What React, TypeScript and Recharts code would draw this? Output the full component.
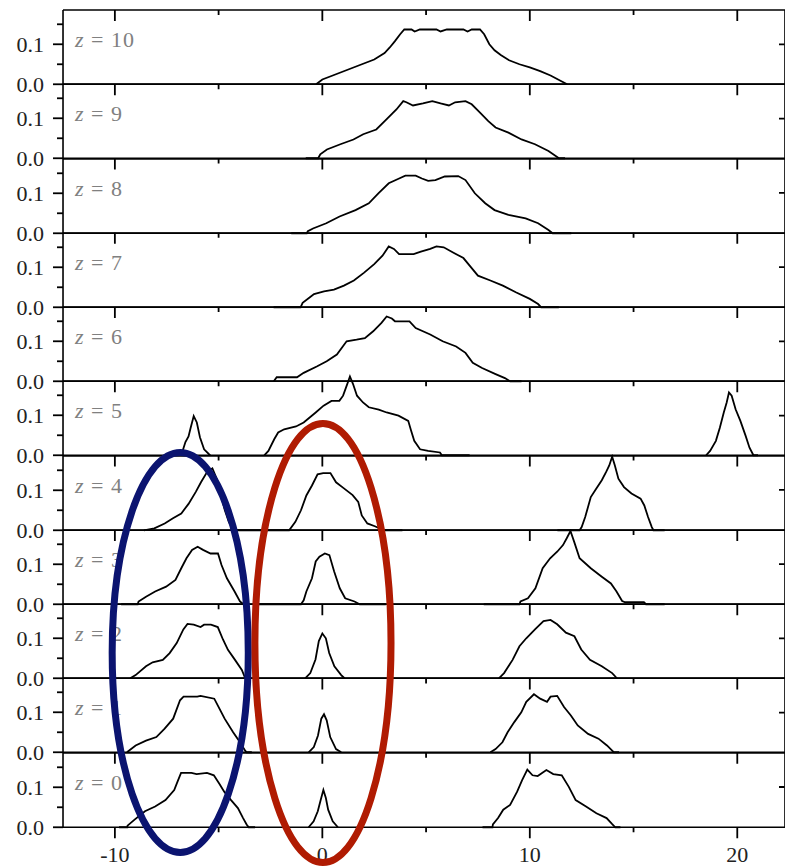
import React from 'react';
import { LineChart, Line, XAxis, YAxis } from 'recharts';

type Pt = [number, number];

// Axis settings
const X_DOMAIN: [number, number] = [-12.5, 22.3];
const Y_MAX = 0.1857;
const X_TICKS = [-10, -5, 0, 5, 10, 15, 20];
const X_LABELS = [-10, 0, 10, 20];
const Y_TICKS = [0, 0.05, 0.1, 0.15];
const Y_LABELS = [0, 0.1];
const RIGHT_TICKS = [0.1];

// Distributions per redshift slice: [position, fraction]
const z10Peak: Pt[] = [[-0.3, 0], [0, 0.012], [0.5, 0.022], [1, 0.032], [1.5, 0.042], [2, 0.052], [2.5, 0.062], [3, 0.078], [3.25, 0.092], [3.5, 0.108], [3.75, 0.125], [3.95, 0.137], [4.3, 0.137], [4.45, 0.132], [4.7, 0.137], [5.5, 0.137], [5.7, 0.132], [6, 0.137], [6.8, 0.137], [7, 0.132], [7.2, 0.137], [7.6, 0.137], [7.8, 0.125], [8.05, 0.1], [8.3, 0.085], [8.6, 0.073], [9, 0.06], [9.5, 0.05], [10, 0.042], [10.5, 0.033], [11, 0.022], [11.5, 0.008], [11.8, 0]];
const z9Peak: Pt[] = [[-0.8, 0], [-0.2, 0], [-0.1, 0.01], [0.22, 0.022], [0.87, 0.035], [1.5, 0.047], [1.97, 0.06], [2.6, 0.072], [3.09, 0.097], [3.57, 0.122], [3.9, 0.143], [4.05, 0.14], [4.37, 0.132], [4.85, 0.137], [5.3, 0.143], [5.7, 0.137], [6.1, 0.132], [6.4, 0.14], [6.9, 0.143], [7.2, 0.135], [7.6, 0.114], [8.0, 0.093], [8.35, 0.077], [8.97, 0.064], [9.6, 0.047], [10.25, 0.035], [10.9, 0.018], [11.3, 0.004], [11.4, 0], [11.7, 0]];
const z8Peak: Pt[] = [[-1.5, 0], [-0.75, 0], [-0.7, 0.005], [-0.45, 0.012], [0.19, 0.025], [0.83, 0.042], [1.6, 0.058], [2.24, 0.075], [2.7, 0.1], [3.2, 0.125], [3.7, 0.137], [4.0, 0.144], [4.5, 0.144], [4.8, 0.137], [5.1, 0.131], [5.45, 0.133], [5.9, 0.142], [6.55, 0.143], [6.9, 0.133], [7.35, 0.1], [7.85, 0.075], [8.3, 0.058], [8.97, 0.046], [9.8, 0.037], [10.4, 0.025], [10.9, 0.008], [11.1, 0], [12.0, 0]];
const z7Peak: Pt[] = [[-2.35, 0], [-1.05, 0], [-0.95, 0.011], [-0.6, 0.025], [-0.4, 0.033], [0.08, 0.04], [0.56, 0.044], [1.04, 0.054], [1.52, 0.067], [2.0, 0.086], [2.5, 0.108], [2.9, 0.129], [3.2, 0.152], [3.45, 0.146], [3.7, 0.133], [4.4, 0.133], [4.75, 0.139], [5.2, 0.146], [5.5, 0.152], [5.85, 0.15], [6.3, 0.137], [6.8, 0.123], [7.1, 0.104], [7.5, 0.079], [8.1, 0.067], [8.7, 0.054], [9.35, 0.037], [10.0, 0.021], [10.4, 0.008], [10.55, 0], [11.4, 0]];
const z6Peak: Pt[] = [[-2.34, 0], [-2.2, 0.01], [-1.22, 0.01], [-0.9, 0.021], [-0.27, 0.037], [0.21, 0.05], [0.7, 0.067], [1.17, 0.1], [1.65, 0.104], [2.05, 0.108], [2.45, 0.125], [2.85, 0.146], [3.1, 0.162], [3.35, 0.157], [3.5, 0.15], [4.2, 0.15], [4.5, 0.133], [5.2, 0.117], [5.8, 0.1], [6.45, 0.087], [6.9, 0.071], [7.25, 0.046], [7.7, 0.033], [8.35, 0.018], [8.8, 0.008], [9.05, 0], [9.6, 0]];
const z5Left: Pt[] = [[-6.8, 0], [-6.6, 0.033], [-6.45, 0.047], [-6.35, 0.068], [-6.2, 0.098], [-6.05, 0.082], [-5.9, 0.045], [-5.7, 0.015], [-5.45, 0.002], [-5.4, 0]];
const z5Mid: Pt[] = [[-2.8, 0], [-2.6, 0.011], [-2.32, 0.04], [-2.13, 0.057], [-1.84, 0.065], [-1.27, 0.072], [-0.9, 0.082], [-0.32, 0.107], [0.06, 0.124], [0.44, 0.136], [0.82, 0.136], [1.0, 0.149], [1.2, 0.178], [1.33, 0.197], [1.48, 0.178], [1.67, 0.149], [1.96, 0.132], [2.24, 0.12], [2.72, 0.114], [3.1, 0.107], [3.67, 0.099], [4.14, 0.086], [4.28, 0.061], [4.43, 0.036], [4.71, 0.015], [5.1, 0.011], [5.67, 0.007], [5.76, 0], [7.1, 0]];
const z5Right: Pt[] = [[18.5, 0], [18.69, 0.011], [18.97, 0.036], [19.16, 0.069], [19.35, 0.107], [19.49, 0.132], [19.6, 0.157], [19.73, 0.149], [19.92, 0.115], [20.15, 0.086], [20.4, 0.049], [20.59, 0.019], [20.78, 0], [21.0, 0]];
const z4Left: Pt[] = [[-8.6, 0], [-8.1, 0.005], [-7.6, 0.017], [-7.2, 0.03], [-6.8, 0.042], [-6.45, 0.066], [-6.1, 0.096], [-5.85, 0.12], [-5.55, 0.146], [-5.3, 0.155], [-5.1, 0.13], [-4.9, 0.09], [-4.7, 0.05], [-4.5, 0.02], [-4.3, 0.005], [-4.1, 0], [-2.9, 0]];
const z4Mid: Pt[] = [[-2.9, 0], [-1.6, 0], [-1.3, 0.021], [-1.03, 0.05], [-0.77, 0.087], [-0.5, 0.112], [-0.23, 0.14], [0.04, 0.143], [0.39, 0.143], [0.66, 0.12], [1.01, 0.106], [1.46, 0.088], [1.73, 0.071], [1.9, 0.037], [2.17, 0.017], [2.53, 0.01], [2.8, 0.004], [2.9, 0], [3.86, 0]];
const z4Right: Pt[] = [[11.33, 0], [12.4, 0], [12.5, 0.008], [12.67, 0.033], [12.94, 0.083], [13.2, 0.104], [13.47, 0.125], [13.68, 0.146], [13.83, 0.162], [13.97, 0.184], [14.1, 0.162], [14.27, 0.129], [14.54, 0.108], [14.9, 0.092], [15.34, 0.079], [15.52, 0.062], [15.7, 0.033], [15.88, 0.008], [15.96, 0], [16.5, 0]];
const z3Left: Pt[] = [[-9.7, 0], [-8.9, 0], [-8.86, 0.007], [-8.5, 0.019], [-8.06, 0.032], [-7.53, 0.044], [-7.08, 0.061], [-6.8, 0.09], [-6.55, 0.115], [-6.28, 0.136], [-6.01, 0.144], [-5.75, 0.136], [-5.39, 0.127], [-5.03, 0.127], [-4.86, 0.098], [-4.6, 0.065], [-4.23, 0.032], [-3.97, 0.007], [-3.8, 0]];
const z3Mid: Pt[] = [[-3.26, 0], [-1.03, 0], [-0.9, 0.01], [-0.77, 0.032], [-0.5, 0.065], [-0.32, 0.107], [-0.14, 0.119], [0.12, 0.127], [0.34, 0.123], [0.57, 0.082], [0.84, 0.04], [1.1, 0.015], [1.55, 0.007], [1.73, 0.002], [1.8, 0], [3.06, 0]];
const z3Right: Pt[] = [[7.78, 0], [9.5, 0], [9.55, 0.007], [9.91, 0.015], [10.27, 0.04], [10.62, 0.09], [10.98, 0.115], [11.33, 0.132], [11.6, 0.148], [11.78, 0.165], [11.96, 0.183], [12.14, 0.156], [12.4, 0.115], [12.94, 0.09], [13.47, 0.069], [13.91, 0.052], [14.18, 0.032], [14.45, 0.008], [14.6, 0.005], [15.5, 0.005], [15.6, 0], [16.5, 0]];
const z2Left: Pt[] = [[-9.26, 0], [-9.0, 0.008], [-8.5, 0.03], [-8.18, 0.04], [-7.69, 0.046], [-7.36, 0.063], [-7.02, 0.088], [-6.7, 0.122], [-6.5, 0.136], [-6.2, 0.134], [-5.87, 0.128], [-5.7, 0.134], [-5.37, 0.134], [-5.04, 0.128], [-4.79, 0.097], [-4.55, 0.071], [-4.21, 0.046], [-3.88, 0.021], [-3.72, 0]];
const z2Mid: Pt[] = [[-0.83, 0], [-0.58, 0.013], [-0.33, 0.047], [-0.17, 0.093], [0, 0.112], [0.17, 0.1], [0.33, 0.063], [0.58, 0.03], [0.91, 0.008], [1.07, 0]];
const z2Right: Pt[] = [[8.51, 0], [8.76, 0.013], [9.17, 0.046], [9.5, 0.08], [9.83, 0.1], [10.25, 0.122], [10.66, 0.143], [11.0, 0.146], [11.32, 0.135], [11.74, 0.114], [12.15, 0.105], [12.48, 0.072], [12.9, 0.046], [13.47, 0.03], [13.97, 0.013], [14.2, 0]];
const z1Left: Pt[] = [[-9.42, 0], [-9.0, 0.017], [-8.5, 0.029], [-8.0, 0.038], [-7.6, 0.059], [-7.19, 0.084], [-6.86, 0.13], [-6.69, 0.139], [-6.03, 0.139], [-5.87, 0.141], [-5.21, 0.134], [-4.96, 0.109], [-4.71, 0.084], [-4.3, 0.05], [-3.97, 0.025], [-3.72, 0.004], [-3.65, 0], [-3.4, 0]];
const z1Mid: Pt[] = [[-0.66, 0], [-0.41, 0.013], [-0.21, 0.042], [-0.05, 0.084], [0.08, 0.095], [0.21, 0.08], [0.38, 0.038], [0.66, 0.008], [0.91, 0]];
const z1Right: Pt[] = [[8.1, 0], [8.35, 0.008], [8.68, 0.025], [8.93, 0.05], [9.26, 0.076], [9.59, 0.1], [9.83, 0.126], [10.2, 0.145], [10.5, 0.134], [10.83, 0.126], [11.0, 0.139], [11.32, 0.141], [11.65, 0.113], [11.98, 0.092], [12.31, 0.067], [12.81, 0.046], [13.31, 0.034], [13.72, 0.017], [13.97, 0.004], [14.05, 0], [14.3, 0]];
const z0Left: Pt[] = [[-9.8, 0], [-9.4, 0], [-9.39, 0.004], [-9.05, 0.019], [-8.55, 0.04], [-8.06, 0.052], [-7.56, 0.068], [-7.14, 0.093], [-6.98, 0.114], [-6.81, 0.136], [-6.31, 0.136], [-6.06, 0.133], [-5.56, 0.136], [-5.23, 0.13], [-4.98, 0.11], [-4.73, 0.089], [-4.4, 0.068], [-4.07, 0.048], [-3.82, 0.023], [-3.65, 0.007], [-3.55, 0], [-3.24, 0]];
const z0Mid: Pt[] = [[-0.66, 0], [-0.42, 0.015], [-0.22, 0.04], [-0.08, 0.068], [0.05, 0.093], [0.17, 0.073], [0.28, 0.044], [0.5, 0.015], [0.75, 0]];
const z0Right: Pt[] = [[7.72, 0], [8.2, 0], [8.22, 0.007], [8.47, 0.023], [8.72, 0.044], [9.05, 0.056], [9.39, 0.089], [9.63, 0.118], [9.88, 0.144], [10.13, 0.13], [10.38, 0.128], [10.8, 0.143], [11.13, 0.133], [11.54, 0.13], [11.88, 0.101], [12.21, 0.068], [12.71, 0.052], [13.21, 0.035], [13.7, 0.023], [13.95, 0.009], [14.12, 0], [14.37, 0]];

const PANELS: { z: number; segments: Pt[][] }[] = [
  { z: 10, segments: [z10Peak] },
  { z: 9, segments: [z9Peak] },
  { z: 8, segments: [z8Peak] },
  { z: 7, segments: [z7Peak] },
  { z: 6, segments: [z6Peak] },
  { z: 5, segments: [z5Left, z5Mid, z5Right] },
  { z: 4, segments: [z4Left, z4Mid, z4Right] },
  { z: 3, segments: [z3Left, z3Mid, z3Right] },
  { z: 2, segments: [z2Left, z2Mid, z2Right] },
  { z: 1, segments: [z1Left, z1Mid, z1Right] },
  { z: 0, segments: [z0Left, z0Mid, z0Right] },
];

// Highlight rings: centre and half-width in axis units
const BLUE = '#0b1470';
const RED = '#b01b02';
const RINGS = [
  { x: -6.85, halfWidth: 3.28, top: 452.5, bottom: 852.5, color: BLUE },
  { x: 0.03, halfWidth: 3.28, top: 423.5, bottom: 862.5, color: RED },
];

// Layout
const PAGE_W = 785;
const PAGE_H = 867;
const CHART_W = 800;
const PLOT_LEFT = 63;
const PLOT_RIGHT = 785;
const PANEL_TOP = 10;
const PANEL_H = 74.27;
const PAD = 6;
const BOTTOM_PAD = 40;
const AXIS_THICK = 1;
const FONT = '"Liberation Serif", "Times New Roman", "DejaVu Serif", serif';
const AXIS_LINE = { stroke: '#000', strokeWidth: 1.6 };
const TICK_COLOR = '#000';
const TICK_WIDTH = 1.8;
const MAJOR_LEN = 11;
const MINOR_LEN = 5;

// Same linear mappings the panels use (plot box PLOT_LEFT..PLOT_RIGHT, PANEL_H tall)
const xToPx = (v: number) =>
  PLOT_LEFT + ((v - X_DOMAIN[0]) / (X_DOMAIN[1] - X_DOMAIN[0])) * (PLOT_RIGHT - PLOT_LEFT);
const panelTopPx = (i: number) => PANEL_TOP + i * PANEL_H;
const yToPx = (i: number, v: number) => panelTopPx(i) + (1 - v / Y_MAX) * PANEL_H;

const isMajorX = (v: number) => Math.abs(v % 10) < 1e-9;
const isLabelY = (v: number) => Y_LABELS.some((l) => Math.abs(l - v) < 1e-9);

// Path for the inward frame ticks of every panel: down from each top edge, left from the right edge
function frameTickPath(): string {
  const parts: string[] = [];
  PANELS.forEach((_, i) => {
    const top = panelTopPx(i);
    X_TICKS.forEach((v) => {
      const x = xToPx(v);
      const len = isMajorX(v) ? MAJOR_LEN : MINOR_LEN;
      parts.push(`M${x.toFixed(2)},${top.toFixed(2)}V${(top + len).toFixed(2)}`);
    });
    RIGHT_TICKS.forEach((v) => {
      const y = yToPx(i, v);
      parts.push(`M${(PLOT_RIGHT - MINOR_LEN - 1).toFixed(2)},${y.toFixed(2)}H${(PLOT_RIGHT - 0.5).toFixed(2)}`);
    });
  });
  return parts.join('');
}

// Lowest panel: outward ticks and numbers along its bottom edge (PANEL_H below the top axis)
function makeXTick(last: boolean) {
  return function XTick(props: any) {
    const { x, y, payload } = props;
    if (!last) return <g />;
    const len = isMajorX(payload.value) ? MAJOR_LEN : MINOR_LEN;
    const yBottom = y + PANEL_H;
    return (
      <g>
        <line x1={x} x2={x} y1={yBottom} y2={yBottom + len} stroke={TICK_COLOR} strokeWidth={TICK_WIDTH} />
        {X_LABELS.includes(payload.value) && (
          <text x={x} y={yBottom + 35} textAnchor="middle" fontFamily={FONT} fontSize={22} fill="#222">
            {payload.value}
          </text>
        )}
      </g>
    );
  };
}

// y ticks: outward on the left frame, numbered at 0.0 and 0.1
function YTick(props: any) {
  const { x, y, payload } = props;
  const labelled = isLabelY(payload.value);
  return (
    <g>
      <line x1={x - (labelled ? 10 : 6)} x2={x} y1={y} y2={y} stroke={TICK_COLOR} strokeWidth={TICK_WIDTH} />
      {labelled && (
        <text x={x - 19} y={y + 7.5} textAnchor="end" fontFamily={FONT} fontSize={22} fill="#222">
          {payload.value.toFixed(1)}
        </text>
      )}
    </g>
  );
}

const toRows = (seg: Pt[]) => seg.map(([x, y]) => ({ x, y }));

function Panel({ index, segments, last }: { index: number; segments: Pt[][]; last: boolean }) {
  const top = PANEL_TOP + index * PANEL_H - PAD;
  const bottomPad = last ? BOTTOM_PAD : PAD;
  const height = PANEL_H + PAD + bottomPad;
  return (
    <div style={{ position: 'absolute', left: 0, top, width: CHART_W, height }}>
      <LineChart
        width={CHART_W}
        height={height}
        margin={{
          top: PAD - AXIS_THICK,
          right: CHART_W - PLOT_RIGHT - AXIS_THICK,
          bottom: bottomPad - AXIS_THICK,
          left: 0,
        }}
      >
        <XAxis
          xAxisId="top"
          orientation="top"
          type="number"
          dataKey="x"
          domain={X_DOMAIN}
          allowDataOverflow
          ticks={X_TICKS}
          interval={0}
          height={AXIS_THICK}
          tickSize={0}
          tickMargin={0}
          tickLine={false}
          tick={makeXTick(last)}
          axisLine={AXIS_LINE}
        />
        <XAxis
          xAxisId="bottom"
          orientation="bottom"
          type="number"
          domain={X_DOMAIN}
          allowDataOverflow
          height={AXIS_THICK}
          tick={false}
          tickLine={false}
          axisLine={AXIS_LINE}
        />
        <YAxis
          yAxisId="left"
          orientation="left"
          type="number"
          width={PLOT_LEFT}
          domain={[0, Y_MAX]}
          allowDataOverflow
          ticks={Y_TICKS}
          interval={0}
          tickSize={0}
          tickMargin={0}
          tickLine={false}
          tick={YTick}
          axisLine={AXIS_LINE}
        />
        <YAxis
          yAxisId="right"
          orientation="right"
          type="number"
          width={AXIS_THICK}
          domain={[0, Y_MAX]}
          allowDataOverflow
          tick={false}
          tickLine={false}
          axisLine={AXIS_LINE}
        />
        {segments.map((seg, i) => (
          <Line
            key={i}
            xAxisId="top"
            yAxisId="left"
            data={toRows(seg)}
            dataKey="y"
            type="linear"
            stroke="#000"
            strokeWidth={1.8}
            dot={false}
            activeDot={false}
            isAnimationActive={false}
          />
        ))}
      </LineChart>
    </div>
  );
}

export default function App() {
  return (
    <div
      style={{
        position: 'absolute',
        left: 0,
        top: 0,
        width: PAGE_W,
        height: PAGE_H,
        overflow: 'hidden',
        background: '#fff',
      }}
    >
      <style>{`.recharts-line, .recharts-line *, .recharts-line-curve { clip-path: none !important; } .recharts-surface { overflow: visible; }`}</style>
      {PANELS.map((p, i) => (
        <Panel key={p.z} index={i} segments={p.segments} last={i === PANELS.length - 1} />
      ))}
      <svg
        width={PAGE_W}
        height={PAGE_H}
        style={{ position: 'absolute', left: 0, top: 0, pointerEvents: 'none', zIndex: 2 }}
      >
        <path d={frameTickPath()} stroke={TICK_COLOR} strokeWidth={TICK_WIDTH} fill="none" />
        {PANELS.map((p, i) => (
          <text
            key={p.z}
            x={75}
            y={panelTopPx(i) + 37}
            fontFamily={FONT}
            fontSize={22}
            letterSpacing={1}
            fill="#808080"
          >
            <tspan fontStyle="italic">z</tspan>
            <tspan>{` = ${p.z}`}</tspan>
          </text>
        ))}
        {RINGS.map((r, i) => (
          <ellipse
            key={i}
            cx={xToPx(r.x)}
            cy={(r.top + r.bottom) / 2}
            rx={xToPx(r.x + r.halfWidth) - xToPx(r.x)}
            ry={(r.bottom - r.top) / 2}
            fill="none"
            stroke={r.color}
            strokeWidth={7}
          />
        ))}
      </svg>
    </div>
  );
}
